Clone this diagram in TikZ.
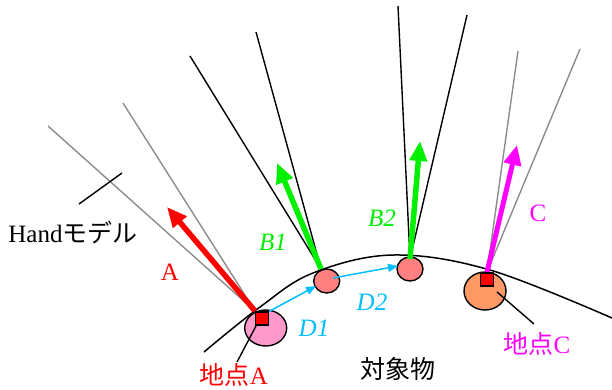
\documentclass[tikz,border=0pt]{standalone}
\usepackage{fontspec}
\setmainfont{Liberation Serif}
\newfontfamily\jp{Noto Sans CJK JP}
\usetikzlibrary{arrows.meta,shapes.geometric}
\definecolor{cyanD}{RGB}{0,190,255}
\definecolor{pinkA}{RGB}{255,153,204}
\definecolor{salmonB}{RGB}{255,128,128}
\definecolor{orangeC}{RGB}{255,153,102}
\definecolor{greenB}{RGB}{0,240,0}
\definecolor{magC}{RGB}{255,0,255}
\definecolor{redA}{RGB}{255,0,0}
\tikzset{
  blackray/.style={line width=1.4pt,black},
  grayray/.style={line width=1.4pt,gray!90},
  fatarrow/.style={line width=5.5pt,-{Triangle[length=20pt,width=17pt]},shorten <=0pt},
  thinarrow/.style={line width=1.5pt,cyanD,-{Triangle[length=10pt,width=8pt]}},
  spot/.style={ellipse,draw,line width=1.4pt,inner sep=0pt},
  sq/.style={rectangle,draw,line width=1.4pt,fill=redA,minimum size=13pt,inner sep=0pt},
  lbl/.style={inner sep=0pt,font=\fontsize{25}{30}\selectfont},
  ilbl/.style={inner sep=0pt,font=\fontsize{25}{30}\selectfont\itshape},
  leader/.style={line width=1.4pt,black}
}
\begin{document}
\begin{tikzpicture}[x=1pt,y=-1pt]
\useasboundingbox (0,0) rectangle (612,389);
% origins
\coordinate (oA) at (255,311);
\coordinate (oB1) at (321,269);
\coordinate (oB2) at (410,259);
\coordinate (oC) at (487,272);
% ray ends
\coordinate (rA1) at (48,126);
\coordinate (rA2) at (123,103);
\coordinate (rB11) at (190,56);
\coordinate (rB12) at (256,32);
\coordinate (rB21) at (398,6);
\coordinate (rB22) at (467,15);
\coordinate (rC1) at (518,51);
\coordinate (rC2) at (580,49);
% rays
\draw[grayray] (oA) -- (rA1);
\draw[grayray] (oA) -- (rA2);
\draw[blackray] (oB1) -- (rB11);
\draw[blackray] (oB1) -- (rB12);
\draw[blackray] (oB2) -- (rB21);
\draw[blackray] (oB2) -- (rB22);
\draw[grayray] (oC) -- (rC1);
\draw[grayray] (oC) -- (rC2);
% hand model tick
\coordinate (h1) at (79,204);
\coordinate (h2) at (122,173);
\draw[blackray] (h1) -- (h2);
% object surface
\draw[line width=1.5pt] plot[smooth,tension=0.6] coordinates {(204,352) (260,307) (313,273) (393,255) (490,270) (612,318)};
% spots
\node[spot,fill=pinkA,minimum width=42pt,minimum height=36pt] (cA) at (265.7,328) {};
\node[spot,fill=salmonB,minimum width=26pt,minimum height=24pt] (cB1) at (326.7,281) {};
\node[spot,fill=salmonB,minimum width=26pt,minimum height=24pt] (cB2) at (410,269) {};
\node[spot,fill=orangeC,minimum width=42pt,minimum height=38pt] (cC) at (485,291) {};
% tips
\coordinate (tA) at (167,207);
\coordinate (tB1) at (277,163);
\coordinate (tB2) at (420,141);
\coordinate (tC) at (517,145);
\draw[fatarrow,redA] (oA) -- (tA);
\draw[fatarrow,greenB] (oB1) -- (tB1);
\draw[fatarrow,greenB] (oB2) -- (tB2);
\draw[fatarrow,magC,line width=5pt] (oC) -- (tC);
% squares
\node[sq] (sA) at (262,318.5) {};
\node[sq] (sC) at (487,279.5) {};
% displacement arrows
\coordinate (d1e) at (316,286);
\coordinate (d2s) at (333,278);
\coordinate (d2e) at (398,266);
\draw[thinarrow] (sA.north east) -- (d1e);
\draw[thinarrow] (d2s) -- (d2e);
% leaders
\coordinate (lA) at (237,362);
\coordinate (lC) at (534,324);
\coordinate (lAs) at (256,326);
\draw[leader] (lAs) -- (lA);
\coordinate (lCs) at (497,292);
\draw[leader] (lCs) -- (lC);
% labels
\node[lbl] (hand) at (73,233) {Hand{\jp モデル}};
\node[lbl,redA] (labA) at (170,272) {A};
\node[lbl,redA] (ptA) at (234,375) {{\jp 地点}A};
\node[ilbl,greenB] (labB1) at (273,242) {B1};
\node[ilbl,greenB] (labB2) at (382,218) {B2};
\node[ilbl,cyanD] (labD1) at (314,328) {D1};
\node[ilbl,cyanD] (labD2) at (372,302) {D2};
\node[lbl,magC] (labC) at (538,213) {C};
\node[lbl,magC] (ptC) at (537,344) {{\jp 地点}C};
\node[lbl] (obj) at (398,369) {\jp 対象物};
\end{tikzpicture}
\end{document}
